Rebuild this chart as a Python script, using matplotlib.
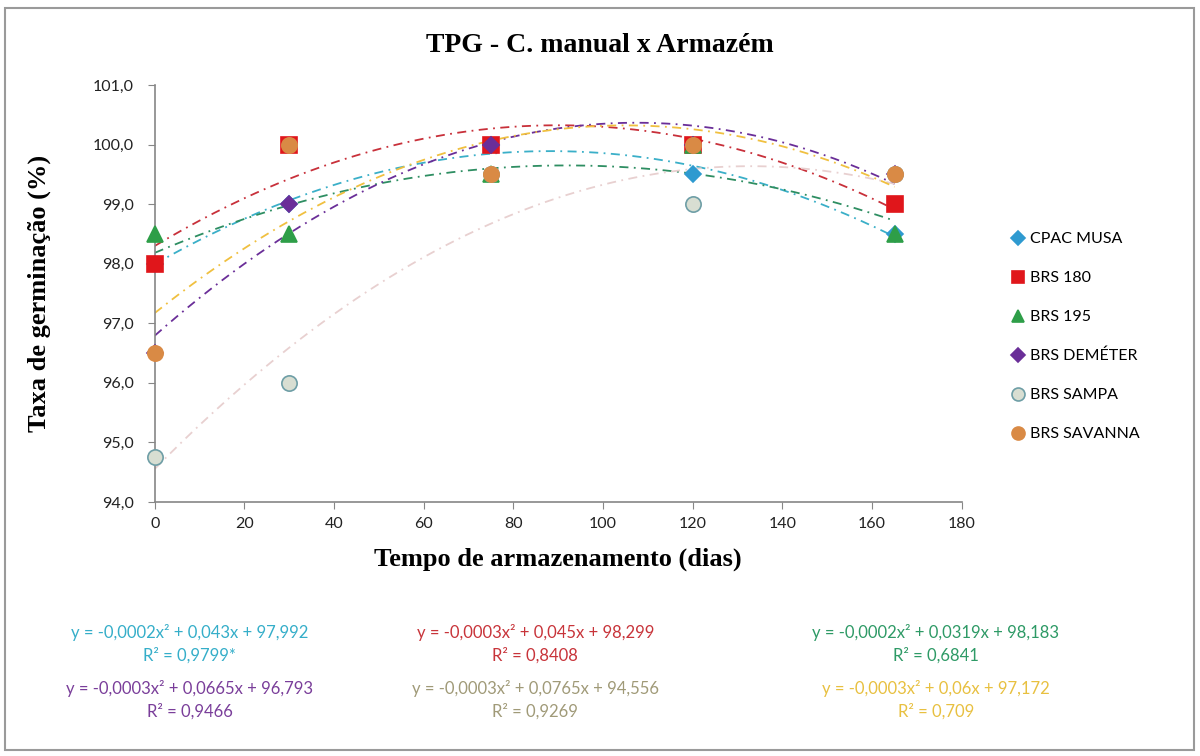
import numpy as np
import matplotlib
matplotlib.use("Agg")
import matplotlib.pyplot as plt
from matplotlib.patches import Rectangle

# ---- data ----
dias = [0, 30, 75, 120, 165]
series_names = ["CPAC MUSA", "BRS 180", "BRS 195", "BRS DEMÉTER", "BRS SAMPA", "BRS SAVANNA"]
cpac_musa = [98.0, 99.0, 100.0, 99.5, 98.5]
brs_180 = [98.0, 100.0, 100.0, 100.0, 99.0]
brs_195 = [98.5, 98.5, 99.5, 100.0, 98.5]
brs_demeter = [96.5, 99.0, 100.0, 100.0, 99.5]
brs_sampa = [94.75, 96.0, 99.5, 99.0, 99.5]
brs_savanna = [96.5, 100.0, 99.5, 100.0, 99.5]
equations = [
    "y = -0,0002x² + 0,043x + 97,992\nR² = 0,9799*",
    "y = -0,0003x² + 0,045x + 98,299\nR² = 0,8408",
    "y = -0,0002x² + 0,0319x + 98,183\nR² = 0,6841",
    "y = -0,0003x² + 0,0665x + 96,793\nR² = 0,9466",
    "y = -0,0003x² + 0,0765x + 94,556\nR² = 0,9269",
    "y = -0,0003x² + 0,06x + 97,172\nR² = 0,709",
]
yticks = [94.0, 95.0, 96.0, 97.0, 98.0, 99.0, 100.0, 101.0]
xticks = [0, 20, 40, 60, 80, 100, 120, 140, 160, 180]

values = [cpac_musa, brs_180, brs_195, brs_demeter, brs_sampa, brs_savanna]
markers = ["D", "s", "^", "D", "o", "o"]
msizes = [8, 11, 11, 8, 11, 11]
face = ["#2E9AD0", "#E0161B", "#2E9E48", "#6A2E98", "#D8DED2", "#D98A45"]
edge = ["#2E9AD0", "#E0161B", "#2E9E48", "#6A2E98", "#6E9EA6", "#D98A45"]
trend_colors = ["#3AAFC8", "#C8303A", "#2E8E62", "#6A2E98", "#E8D0D0", "#F0C040"]
eq_colors = ["#35AEC9", "#C8343A", "#2E9A66", "#7A3E9A", "#A09A78", "#E8C040"]

fig = plt.figure(figsize=(12, 7.56), dpi=100)
fig.patches.append(Rectangle((0.004, 0.008), 0.991, 0.982, transform=fig.transFigure,
                             fill=False, edgecolor="#9A9A9A", linewidth=1.5))
ax = fig.add_axes([0.129, 0.336, 0.6725, 0.5516])

xs = np.linspace(0, 165, 200)
# trend lines first
for v, c in zip(values, trend_colors):
    coef = np.polyfit(dias, v, 2)
    ax.plot(xs, np.polyval(coef, xs), linestyle=(0, (5, 3, 1, 3)), color=c, linewidth=1.3, zorder=2)

handles = []
for i, (v, m, s, fc, ec, name) in enumerate(zip(values, markers, msizes, face, edge, series_names)):
    h, = ax.plot(dias, v, linestyle="none", marker=m, markersize=s, markerfacecolor=fc,
                 markeredgecolor=ec, markeredgewidth=1.2, label=name, zorder=3 + i, clip_on=False)
    handles.append(h)

ax.set_xlim(0, 180)
ax.set_ylim(94, 101)
ax.set_yticks(yticks)
ax.set_yticklabels([f"{t:.1f}".replace(".", ",") for t in yticks])
ax.set_xticks(xticks)
for sp in ["top", "right"]:
    ax.spines[sp].set_visible(False)
for sp in ["left", "bottom"]:
    ax.spines[sp].set_color("#868686")
    ax.spines[sp].set_linewidth(1.2)
ax.tick_params(axis="both", direction="out", length=5, color="#868686", labelsize=11.5,
               labelcolor="#222222")
ax.tick_params(axis="y", pad=10)
ax.tick_params(axis="x", pad=6)
for lab in ax.get_xticklabels() + ax.get_yticklabels():
    lab.set_family("Lato")

ax.set_xlabel("Tempo de armazenamento (dias)", family="Liberation Serif", fontweight="bold",
              fontsize=19, labelpad=12)
ax.set_ylabel("Taxa de germinação (%)", family="Liberation Serif", fontweight="bold",
              fontsize=19, labelpad=30)
fig.text(0.5, 0.94, "TPG - C. manual x Armazém", family="Liberation Serif", fontweight="bold",
         fontsize=20, ha="center", va="center")

leg = fig.legend(handles=handles, loc="upper left", bbox_to_anchor=(0.828, 0.712),
                 frameon=False, prop={"family": "Lato", "size": 11.5}, labelspacing=1.55,
                 handletextpad=0.2, handlelength=1.2, markerscale=0.85)

cols_x = [0.158, 0.446, 0.78]
rows_y = [0.148, 0.074]
for i, (eq, c) in enumerate(zip(equations, eq_colors)):
    r, col = divmod(i, 3)
    fig.text(cols_x[col], rows_y[r], eq, color=c, family="Lato", fontsize=12,
             ha="center", va="center", linespacing=1.45)

fig.savefig("out.png", dpi=100, facecolor="white")
